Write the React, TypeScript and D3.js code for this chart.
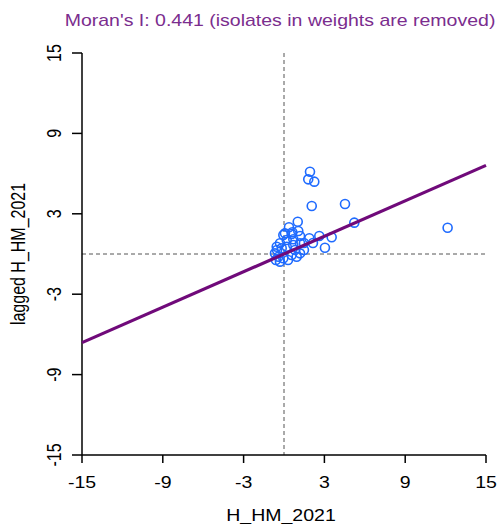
import React from "react";
import * as d3 from "d3";

const title = "Moran's I: 0.441 (isolates in weights are removed)";
const moranI = 0.441;
const xLabel = "H_HM_2021";
const yLabel = "lagged H_HM_2021";
const ticks = [-15, -9, -3, 3, 9, 15];

const xs = [1.93, 1.8, 2.25, 2.06, 4.53, 5.22, 12.15, 1.02, 1.06, 0.07, 0.62, 3.54, 3.04, 1.88, 2.62, -0.05, 0.57, 0.2, 0.69, -0.3, -0.54, -0.17, 0.2, 0.69, 1.19, -0.67, -0.42, -0.05, 0.57, 0.94, 1.19, -0.3, 0.3, 1.48, -0.52, 0.82, -0.6, 1.19, 0.37, 1.48, 2.15];
const ys = [6.14, 5.57, 5.4, 3.58, 3.73, 2.34, 1.96, 2.41, 1.72, 1.54, 1.62, 1.25, 0.47, 1.17, 1.34, 1.42, 1.49, 1.04, 1.1, 0.8, 0.54, 0.43, 0.54, 0.67, 0.8, 0.05, -0.2, -0.32, -0.07, -0.2, 0.05, -0.57, -0.45, 0.3, 0.3, 0.3, -0.45, 1.34, 2.0, 0.82, 0.82];

export default function App() {
  const W = 501, H = 524;
  const x = d3.scaleLinear().domain([-15, 15]).range([82, 486]);
  const y = d3.scaleLinear().domain([-15, 15]).range([455, 53]);
  const font = "'Liberation Sans', Arial, sans-serif";
  const line = d3.line<number>().x((d) => x(d)).y((d) => y(d * moranI));
  const sx = 1.22;
  return (
    <svg width={W} height={H} style={{ position: "absolute", left: 0, top: 0, background: "#fff" }} fontFamily={font}>
      <text transform={`translate(280,26) scale(${sx},1)`} textAnchor="middle" fontSize={16} fill="#7b2d8e">{title}</text>
      {/* dashed zero lines */}
      <line x1={x(0)} x2={x(0)} y1={y(15)} y2={y(-15)} stroke="#555" strokeDasharray="4,3" strokeWidth={1} />
      <line x1={x(-15)} x2={x(15)} y1={y(0)} y2={y(0)} stroke="#555" strokeDasharray="4,3" strokeWidth={1} />
      {/* axes */}
      <line x1={x(-15)} x2={x(-15)} y1={y(15)} y2={y(-15)} stroke="#000" strokeWidth={1.5} />
      <line x1={x(-15)} x2={x(15)} y1={y(-15)} y2={y(-15)} stroke="#000" strokeWidth={1.5} />
      {ticks.map((t) => (
        <g key={"x" + t}>
          <line x1={x(t)} x2={x(t)} y1={y(-15)} y2={y(-15) + 8} stroke="#000" strokeWidth={1.5} />
          <text transform={`translate(${x(t)},488) scale(${sx},1)`} textAnchor="middle" fontSize={16} fill="#000">{t}</text>
        </g>
      ))}
      {ticks.map((t) => (
        <g key={"y" + t}>
          <line x1={x(-15) - 10} x2={x(-15)} y1={y(t)} y2={y(t)} stroke="#000" strokeWidth={1.5} />
          <text transform={`translate(61,${y(t)}) scale(${sx},1) rotate(-90)`} textAnchor="middle" fontSize={16} fill="#000">{t}</text>
        </g>
      ))}
      <text transform={`translate(281,521) scale(${sx},1)`} textAnchor="middle" fontSize={16} fill="#000">{xLabel}</text>
      <text transform={`translate(25,${(y(15) + y(-15)) / 2}) scale(${sx},1) rotate(-90)`} textAnchor="middle" fontSize={16} fill="#000">{yLabel}</text>
      {/* points */}
      {xs.map((v, i) => (
        <circle key={i} cx={x(v)} cy={y(ys[i])} r={4.5} fill="none" stroke="#1f6bff" strokeWidth={1.6} />
      ))}
      <path d={line([-15, 15]) || ""} stroke="#700a7a" strokeWidth={3.2} fill="none" />
    </svg>
  );
}
